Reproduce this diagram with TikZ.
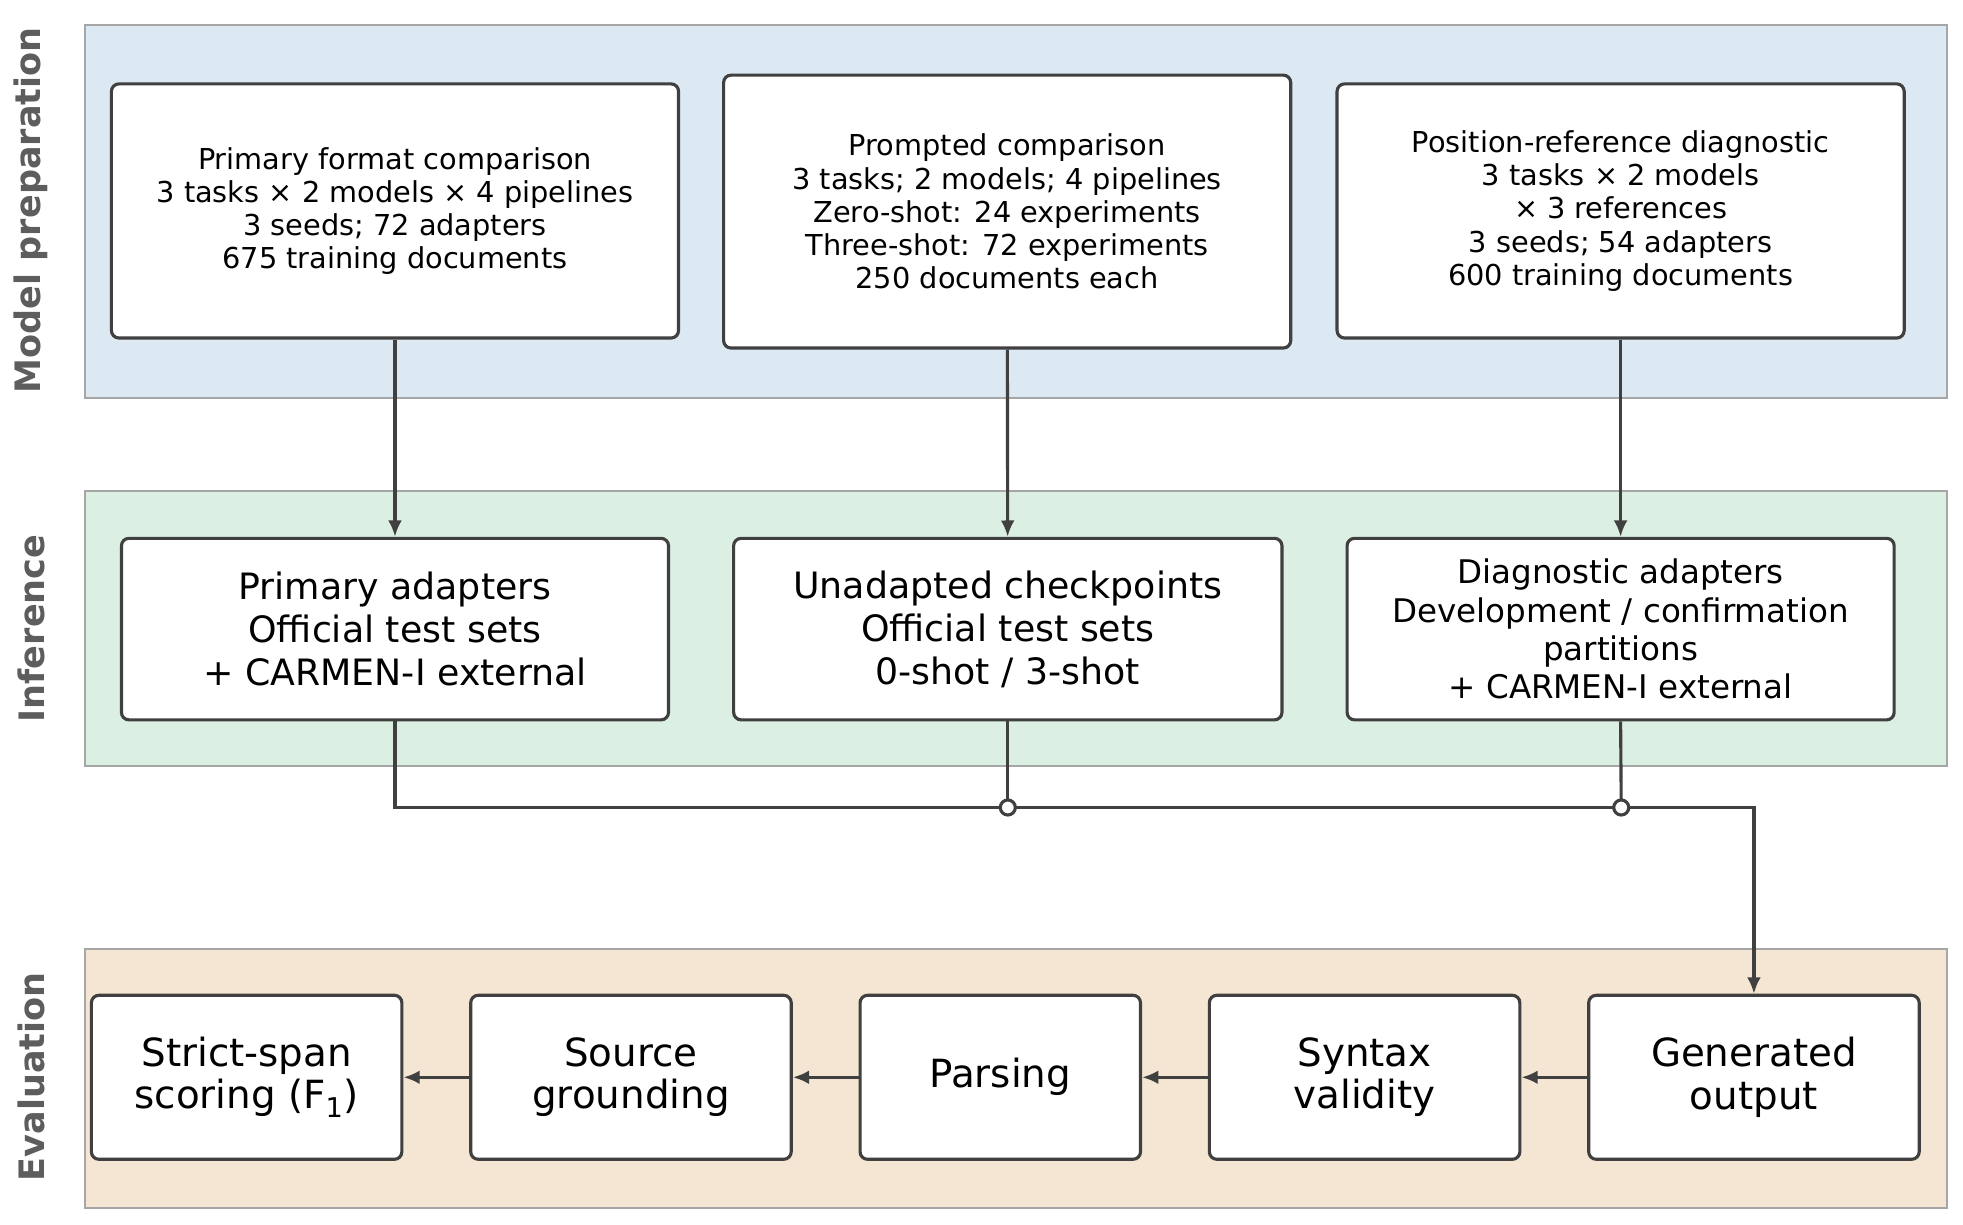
\documentclass[tikz,border=0pt]{standalone}
\usepackage{fontspec}
\setmainfont{DejaVu Sans}
\usetikzlibrary{arrows.meta}
\definecolor{bx}{HTML}{404040}
\begin{document}
\begin{tikzpicture}[x=1pt,y=-1pt,
 band/.style={draw=gray!70,line width=1.5pt},
 bx/.style={draw=bx,line width=2.5pt,rounded corners=6pt,fill=white,align=center,inner sep=0pt},
 sm/.style={font=\fontsize{23}{26.5}\selectfont},
 md/.style={font=\fontsize{29}{34.5}\selectfont},
 lg/.style={font=\fontsize{31}{34}\selectfont},
 side/.style={rotate=90,font=\bfseries\fontsize{28}{32}\selectfont,text=bx!85},
 arr/.style={draw=bx,line width=2.5pt,-{Latex[length=13pt,width=11pt]}},
 ln/.style={draw=bx,line width=2.5pt}]
\useasboundingbox (0,0) rectangle (1568,978);
\draw[band,fill={rgb,255:red,220;green,233;blue,243}] (68,20) rectangle (1555,318);
\draw[band,fill={rgb,255:red,220;green,239;blue,227}] (68,392) rectangle (1555,612);
\draw[band,fill={rgb,255:red,245;green,230;blue,212}] (68,758) rectangle (1555,965);
\node[side] (s1) at (25,168) {Model preparation};
\node[side] (s2) at (25,502) {Inference};
\node[side] (s3) at (25,860) {Evaluation};
\node[bx,sm,minimum width=453pt,minimum height=203pt] (b1) at (315.5,168.5) {Primary format comparison\\3 tasks × 2 models × 4 pipelines\\3 seeds; 72 adapters\\675 training documents};
\node[bx,sm,minimum width=453pt,minimum height=218pt] (b2) at (804.5,169) {Prompted comparison\\3 tasks; 2 models; 4 pipelines\\Zero-shot: 24 experiments\\Three-shot: 72 experiments\\250 documents each};
\node[bx,sm,minimum width=453pt,minimum height=203pt] (b3) at (1294.5,168.5) {Position-reference diagnostic\\3 tasks × 2 models\\× 3 references\\3 seeds; 54 adapters\\600 training documents};
\node[bx,md,minimum width=437pt,minimum height=145pt] (i1) at (315.5,502.5) {Primary adapters\\Official test sets\\+ CARMEN-I external};
\node[bx,md,minimum width=438pt,minimum height=145pt] (i2) at (805,502.5) {Unadapted checkpoints\\Official test sets\\0-shot / 3-shot};
\node[bx,minimum width=437pt,minimum height=145pt,font=\fontsize{26}{30.5}\selectfont] (i3) at (1294.5,502.5) {Diagnostic adapters\\Development / confirmation\\partitions\\+ CARMEN-I external};
\node[bx,lg,minimum width=248pt,minimum height=131pt] (e1) at (197,860.5) {Strict-span\\scoring (F\textsubscript{1})};
\node[bx,lg,minimum width=256pt,minimum height=131pt] (e2) at (504,860.5) {Source\\grounding};
\node[bx,lg,minimum width=224pt,minimum height=131pt] (e3) at (799,860.5) {Parsing};
\node[bx,lg,minimum width=248pt,minimum height=131pt] (e4) at (1090,860.5) {Syntax\\validity};
\node[bx,lg,minimum width=264pt,minimum height=131pt] (e5) at (1401,860.5) {Generated\\output};
\draw[arr] (b1) -- (i1);
\draw[arr] (b2) -- (i2);
\draw[arr] (b3) -- (i3);
\coordinate (j2) at (805,645);
\coordinate (j3) at (1295,645);
\draw[ln] (i2.south) -- (j2);
\draw[ln] (i3.south) -- (j3);
\draw[arr] (i1.south) |- (j2) -- (j3) -| (e5.north);
\fill[bx] (j2) circle (6pt) (j3) circle (6pt);
\draw[arr] (e5) -- (e4);
\draw[arr] (e4) -- (e3);
\draw[arr] (e3) -- (e2);
\draw[arr] (e2) -- (e1);
\end{tikzpicture}
\end{document}
